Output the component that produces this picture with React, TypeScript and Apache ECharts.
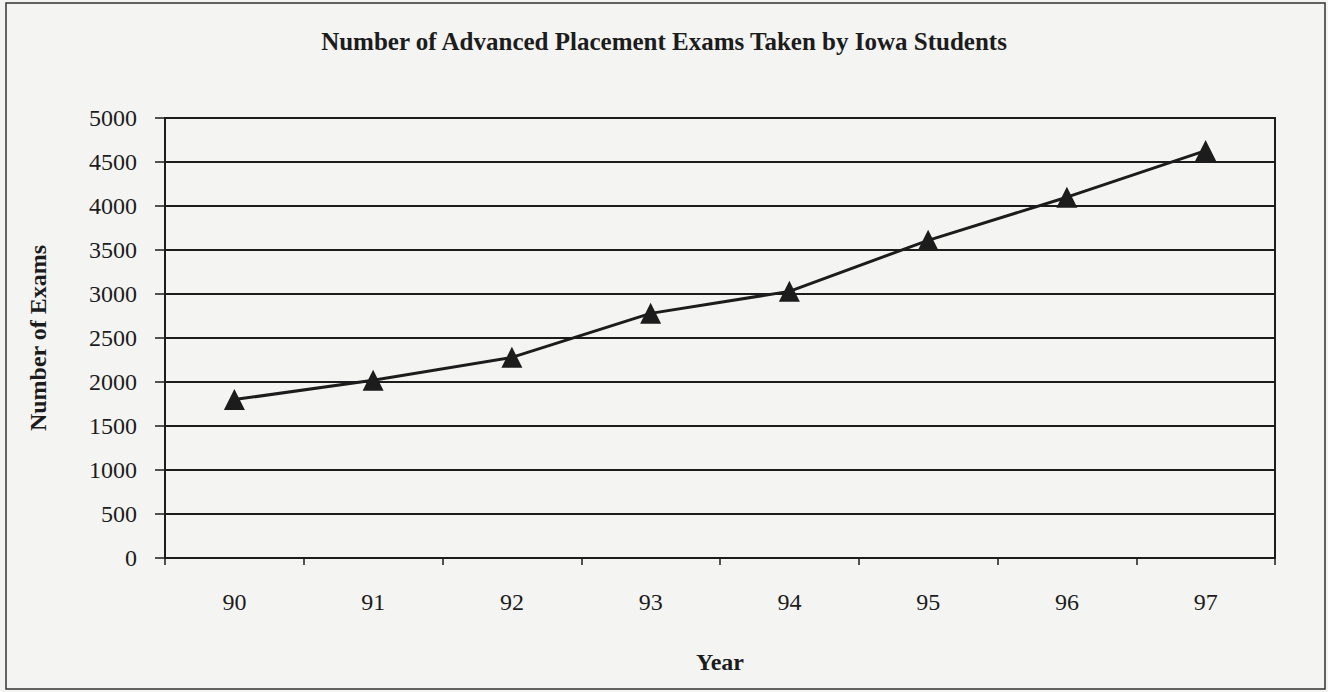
import React, { useEffect, useRef } from "react";
import * as echarts from "echarts";

const titleText = "Number of Advanced Placement Exams Taken by Iowa Students";
const years = ["90", "91", "92", "93", "94", "95", "96", "97"];
const exams = [1800, 2020, 2280, 2780, 3030, 3610, 4100, 4630];
const yAxisName = "Number of Exams";
const xAxisName = "Year";

const FONT = "'Liberation Serif', 'Times New Roman', serif";
const INK = "#1c1c1c";

export default function App() {
  const ref = useRef<HTMLDivElement>(null);
  useEffect(() => {
    if (!ref.current) return;
    const chart = echarts.init(ref.current, undefined, { renderer: "svg" });
    chart.setOption({
      animation: false,
      backgroundColor: "#f4f4f3",
      title: {
        text: titleText,
        left: "center",
        top: 24,
        textStyle: { fontFamily: FONT, fontSize: 25, fontWeight: "bold", color: INK },
      },
      graphic: [
        {
          type: "rect",
          shape: { x: 6, y: 3, width: 1319, height: 686 },
          style: { fill: "none", stroke: "#333", lineWidth: 1.5 },
          silent: true,
        },
      ],
      grid: {
        left: 165,
        right: 53,
        top: 118,
        bottom: 134,
        show: true,
        backgroundColor: "transparent",
        borderColor: INK,
        borderWidth: 2,
      },
      xAxis: {
        type: "category",
        data: years,
        boundaryGap: true,
        name: xAxisName,
        nameLocation: "middle",
        nameGap: 92,
        nameTextStyle: { fontFamily: FONT, fontSize: 24, fontWeight: "bold", color: INK },
        axisLine: { lineStyle: { color: INK, width: 2 } },
        axisTick: { show: true, length: 7, lineStyle: { color: INK, width: 1.5 } },
        axisLabel: { fontFamily: FONT, fontSize: 24, color: INK, margin: 32 },
        splitLine: { show: false },
      },
      yAxis: {
        type: "value",
        min: 0,
        max: 5000,
        interval: 500,
        name: yAxisName,
        nameLocation: "middle",
        nameGap: 115,
        nameRotate: 90,
        nameTextStyle: { fontFamily: FONT, fontSize: 24, fontWeight: "bold", color: INK },
        axisLine: { show: true, lineStyle: { color: INK, width: 2 } },
        axisTick: { show: true, length: 10, lineStyle: { color: INK, width: 1.5 } },
        axisLabel: {
          fontFamily: FONT,
          fontSize: 24,
          color: INK,
          margin: 28,
          formatter: (v: number) => String(v),
        },
        splitLine: { show: true, lineStyle: { color: INK, width: 2 } },
      },
      series: [
        {
          type: "line",
          data: exams,
          symbol: "triangle",
          symbolSize: 21,
          lineStyle: { color: INK, width: 3 },
          itemStyle: { color: INK },
        },
      ],
    });
    return () => chart.dispose();
  }, []);
  return (
    <div
      ref={ref}
      style={{ position: "absolute", left: 0, top: 0, width: 1328, height: 692 }}
    />
  );
}
